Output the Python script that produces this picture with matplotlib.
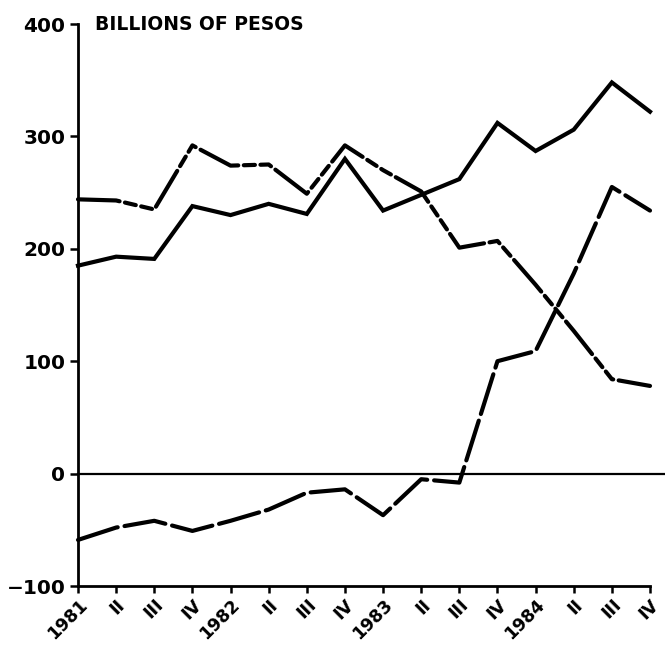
import matplotlib
matplotlib.use("Agg")
import matplotlib.pyplot as plt

# ---- data (billions of pesos, quarterly 1981 I - 1984 IV) ----
quarter_labels = ["1981", "II", "III", "IV", "1982", "II", "III", "IV",
                  "1983", "II", "III", "IV", "1984", "II", "III", "IV"]
series_solid = [185, 193, 191, 238, 230, 240, 231, 280,
                234, 248, 262, 312, 287, 306, 348, 322]
series_dashdot = [244, 243, 235, 292, 274, 275, 249, 292,
                  270, 251, 201, 207, 168, 127, 84, 78]
series_longdash = [-59, -48, -42, -51, -42, -32, -17, -14,
                   -37, -5, -8, 100, 109, 178, 255, 234]
y_ticks = [-100, 0, 100, 200, 300, 400]
y_tick_labels = ["\u2212100", "0", "100", "200", "300", "400"]

plt.rcParams["font.family"] = ["DejaVu Sans"]
plt.rcParams["lines.scale_dashes"] = False

fig = plt.figure(figsize=(6.65, 6.48), dpi=100)
ax = fig.add_axes([78 / 665, 62 / 648, (650 - 78) / 665, (586 - 24) / 648])

x = list(range(len(quarter_labels)))
lw = 3.0
ax.plot(x, series_solid, color="black", lw=lw, solid_joinstyle="miter",
        clip_on=False)
ax.plot(x, series_dashdot, color="black", lw=lw,
        dashes=(30, 4, 8, 4, 8, 4), dash_capstyle="round", clip_on=False)
ax.plot(x, series_longdash, color="black", lw=lw,
        dashes=(30, 5), dash_capstyle="round", clip_on=False)

ax.axhline(0, color="black", lw=1.6, xmin=0, xmax=1.03, clip_on=False)

ax.set_xlim(0, len(quarter_labels) - 1)
ax.set_ylim(-100, 400)

for side in ("top", "right"):
    ax.spines[side].set_visible(False)
for side in ("left", "bottom"):
    ax.spines[side].set_linewidth(2.0)

ax.set_yticks(y_ticks)
ax.set_yticklabels(y_tick_labels, fontsize=14.5, fontweight="bold")
ax.set_xticks(x)
ax.set_xticklabels(quarter_labels, fontsize=12.5, fontweight="bold",
                   rotation=45, ha="right", va="top", rotation_mode="anchor")
ax.tick_params(axis="both", direction="out", length=6, width=1.8, pad=3)
ax.tick_params(axis="x", length=5, pad=2)

ax.text(0.03, 1.0, "BILLIONS OF PESOS", transform=ax.transAxes,
        fontsize=13.5, fontweight="bold", ha="left", va="center")

fig.savefig("out.png", dpi=100)
